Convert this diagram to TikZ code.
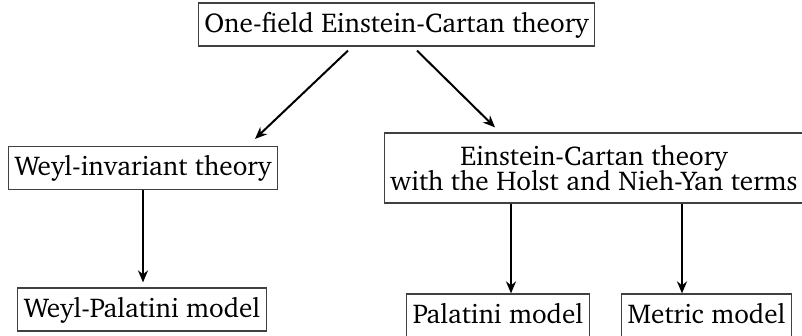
\documentclass[tikz,border=0pt]{standalone}
\usepackage[T1]{fontenc}
\usepackage{charter}
\usetikzlibrary{positioning,arrows.meta,calc}

\tikzset{
  theorybox/.style={draw=black!75, line width=0.6pt, inner xsep=3pt, inner ysep=0pt,
    minimum height=21.5pt, text height=10.5pt, text depth=2.5pt, align=center,
    font=\fontsize{13.6}{14}\selectfont},
  twolinebox/.style={draw=black!75, line width=0.6pt, inner xsep=3pt, inner ysep=0pt,
    minimum height=35pt, align=center, font=\fontsize{13.6}{14}\selectfont},
  flow/.style={-{Stealth[length=6pt,width=5pt]}, line width=1pt}
}

\begin{document}
\begin{tikzpicture}[x=0.5pt,y=0.5pt]
  \useasboundingbox (0,0) rectangle (802,336);
  % theories
  \node[theorybox] (onefield) at (396.5,311.5) {One-field Einstein-Cartan theory};
  \node[theorybox] (weyl) at (143,168) {Weyl-invariant theory};
  \node[twolinebox] (holst) at (594,168) {Einstein-Cartan theory\\[-1.5pt]with the Holst and Nieh-Yan terms};
  % models
  \node[theorybox] (wpal) at (142,26.5) {Weyl-Palatini model};
  \node[theorybox] (pal) at (498,20.5) {Palatini model};
  \node[theorybox] (met) at (706.5,20.5) {Metric model};
  % arrows
  \draw[flow] ($(onefield.south)+(-48.5,-4)$) -- ($(weyl.north)+(112,7)$);
  \draw[flow] ($(onefield.south)+(20.5,-4)$) -- ($(holst.north)+(-99,5)$);
  \draw[flow, shorten >=2.5pt] (weyl.south) -- (weyl.south |- wpal.north);
  \coordinate (hl) at ($(holst.south)+(-83,0)$);
  \coordinate (hr) at ($(holst.south)+(88,0)$);
  \draw[flow] (hl) -- (hl |- pal.north);
  \draw[flow] (hr) -- (hr |- met.north);
\end{tikzpicture}
\end{document}
